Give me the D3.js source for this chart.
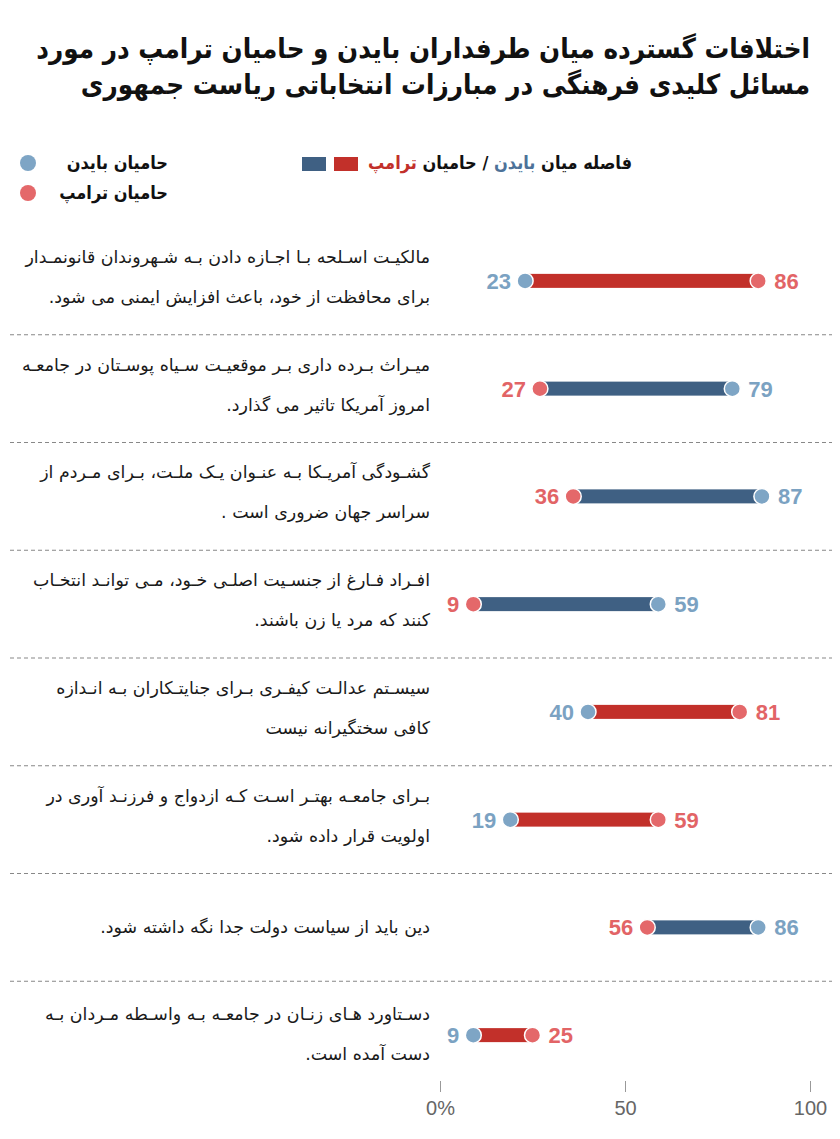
<!DOCTYPE html>
<html lang="fa">
<head>
<meta charset="utf-8">
<script src="https://cdn.jsdelivr.net/npm/d3@7"></script>
<style>
  html, body { margin: 0; padding: 0; background: #fff; }
  svg { display: block; }
  .fa { direction: rtl; unicode-bidi: embed; font-family: "DejaVu Sans", sans-serif; }
</style>
</head>
<body>
<svg id="chart" width="840" height="1139"></svg>
<script>
// ---------- data ----------
const titleLines = [
  "اختلافات گسترده میان طرفداران بایدن و حامیان ترامپ در مورد",
  "مسائل کلیدی فرهنگی در مبارزات انتخاباتی ریاست جمهوری"
];
const categories = [
  ["مالکیـت اسـلحه بـا اجـازه دادن بـه شـهروندان قانونمـدار", "برای محافظت از خود، باعث افزایش ایمنی می شود."],
  ["میـراث بـرده داری بـر موقعیـت سـیاه پوسـتان در جامعـه", "امروز آمریکا تاثیر می گذارد."],
  ["گشـودگی آمریـکا بـه عنـوان یـک ملـت، بـرای مـردم از", "سراسر جهان ضروری است ."],
  ["افـراد فـارغ از جنسـیت اصلـی خـود، مـی توانـد انتخـاب", "کنند که  مرد یا زن باشند."],
  ["سیسـتم عدالـت کیفـری بـرای جنایتـکاران بـه انـدازه", "کافی سختگیرانه نیست"],
  ["بـرای جامعـه بهتـر اسـت کـه ازدواج و فرزنـد آوری در", "اولویت قرار داده شود."],
  ["دین باید از سیاست دولت جدا نگه داشته شود."],
  ["دسـتاورد هـای زنـان در جامعـه بـه واسـطه مـردان بـه", "دست آمده است."]
];
const bidenValues = [23, 79, 87, 59, 40, 19, 86, 9];
const trumpValues = [86, 27, 36, 9, 81, 59, 56, 25];
const tickValues = [0, 50, 100];
const tickLabels = ["0%", "50", "100"];
const legendBiden = "حامیان بایدن";
const legendTrump = "حامیان ترامپ";

// ---------- colours ----------
const C = {
  bidenDot: "#7ea5c5", trumpDot: "#e4686a",
  bidenBar: "#3f6083", trumpBar: "#c2302a",
  bidenText: "#7ba2c2", trumpText: "#e26466"
};

const svg = d3.select("#chart");
const rows = categories.map((c, i) => ({ lines: c, biden: bidenValues[i], trump: trumpValues[i], i }));

const x = d3.scaleLinear().domain([0, 100]).range([440, 810]);
const y = d3.scaleBand().domain(d3.range(rows.length)).range([227, 1089]).padding(0);
const cy = i => y(i) + y.bandwidth() / 2;

// ---------- title ----------
svg.append("g").selectAll("text").data(titleLines).join("text")
  .attr("class", "fa")
  .attr("x", 810).attr("y", (d, i) => 58 + i * 36)
  .attr("text-anchor", "start")
  .style("font-family", "'DejaVu Sans Condensed', 'DejaVu Sans', sans-serif")
  .style("font-weight", "bold")
  .style("font-size", "27.5px")
  .attr("fill", "#111")
  .text(d => d);

// ---------- legend ----------
const lfont = "'DejaVu Sans Condensed', 'DejaVu Sans', sans-serif";
const lg = svg.append("g");
lg.append("text").attr("class", "fa").attr("x", 168).attr("y", 169)
  .attr("text-anchor", "start").style("font-weight", "bold").style("font-size", "18px")
  .style("font-family", lfont).attr("fill", "#111").text(legendBiden);
lg.append("circle").attr("cx", 28).attr("cy", 163).attr("r", 8).attr("fill", C.bidenDot);
lg.append("text").attr("class", "fa").attr("x", 168).attr("y", 199)
  .attr("text-anchor", "start").style("font-weight", "bold").style("font-size", "18px")
  .style("font-family", lfont).attr("fill", "#111").text(legendTrump);
lg.append("circle").attr("cx", 28).attr("cy", 193).attr("r", 8).attr("fill", C.trumpDot);

const gapLegend = lg.append("text").attr("class", "fa").attr("x", 632).attr("y", 169)
  .attr("text-anchor", "start").style("font-weight", "bold").style("font-size", "18px")
  .style("font-family", lfont).attr("fill", "#111");
gapLegend.append("tspan").text("فاصله میان ");
gapLegend.append("tspan").attr("fill", "#4d7299").text("بایدن");
gapLegend.append("tspan").text(" / حامیان ");
gapLegend.append("tspan").attr("fill", C.trumpBar).text("ترامپ");
lg.append("rect").attr("x", 302).attr("y", 157).attr("width", 24).attr("height", 14).attr("fill", C.bidenBar);
lg.append("rect").attr("x", 334).attr("y", 157).attr("width", 24).attr("height", 14).attr("fill", C.trumpBar);

// ---------- separators ----------
svg.append("g").selectAll("line").data(d3.range(1, rows.length)).join("line")
  .attr("x1", 10).attr("x2", 832)
  .attr("y1", d => y(d)).attr("y2", d => y(d))
  .attr("stroke", "#888").attr("stroke-width", 1.2).attr("stroke-dasharray", "4,3");

// ---------- row labels ----------
const lab = svg.append("g");
rows.forEach(r => {
  const n = r.lines.length;
  lab.selectAll(null).data(r.lines).join("text")
    .attr("class", "fa")
    .attr("x", 430)
    .attr("y", (d, k) => n === 1 ? cy(r.i) + 6 : cy(r.i) - 18 + k * 40 + (r.i === 7 ? 3 : 0))
    .attr("text-anchor", "start")
    .style("font-size", "17.4px")
    .attr("fill", "#1a1a1a")
    .text(d => d);
});

// ---------- bars ----------
const barH = 14;
svg.append("g").selectAll("rect").data(rows).join("rect")
  .attr("x", d => x(Math.min(d.biden, d.trump)))
  .attr("width", d => Math.abs(x(d.trump) - x(d.biden)))
  .attr("y", d => cy(d.i) - barH / 2)
  .attr("height", barH)
  .attr("fill", d => d.trump > d.biden ? C.trumpBar : C.bidenBar);

// ---------- dots ----------
const dots = svg.append("g");
dots.selectAll(".b").data(rows).join("circle").attr("class", "b")
  .attr("cx", d => x(d.biden)).attr("cy", d => cy(d.i)).attr("r", 8)
  .attr("fill", C.bidenDot).attr("stroke", "#fff").attr("stroke-width", 1.5);
dots.selectAll(".t").data(rows).join("circle").attr("class", "t")
  .attr("cx", d => x(d.trump)).attr("cy", d => cy(d.i)).attr("r", 8)
  .attr("fill", C.trumpDot).attr("stroke", "#fff").attr("stroke-width", 1.5);

// ---------- value labels ----------
const vals = svg.append("g")
  .style("font-family", "'Liberation Sans', Arial, sans-serif")
  .style("font-weight", "bold").style("font-size", "22px");
rows.forEach(r => {
  [["biden", C.bidenText], ["trump", C.trumpText]].forEach(([k, col]) => {
    const other = k === "biden" ? r.trump : r.biden;
    const isLeft = r[k] < other;
    vals.append("text")
      .attr("x", x(r[k]) + (isLeft ? -14 : 16))
      .attr("y", cy(r.i) + 8)
      .attr("text-anchor", isLeft ? "end" : "start")
      .attr("fill", col)
      .text(r[k]);
  });
});

// ---------- axis ----------
const axis = d3.axisBottom(x).tickValues(tickValues)
  .tickFormat((d, i) => tickLabels[i]).tickSize(11).tickPadding(9);
const ax = svg.append("g").attr("transform", "translate(0,1081)").call(axis);
ax.select(".domain").remove();
ax.selectAll(".tick line").attr("stroke", "#999");
ax.selectAll(".tick text")
  .style("font-family", "'Liberation Sans', Arial, sans-serif")
  .style("font-size", "20px").attr("fill", "#666");
</script>
</body>
</html>
